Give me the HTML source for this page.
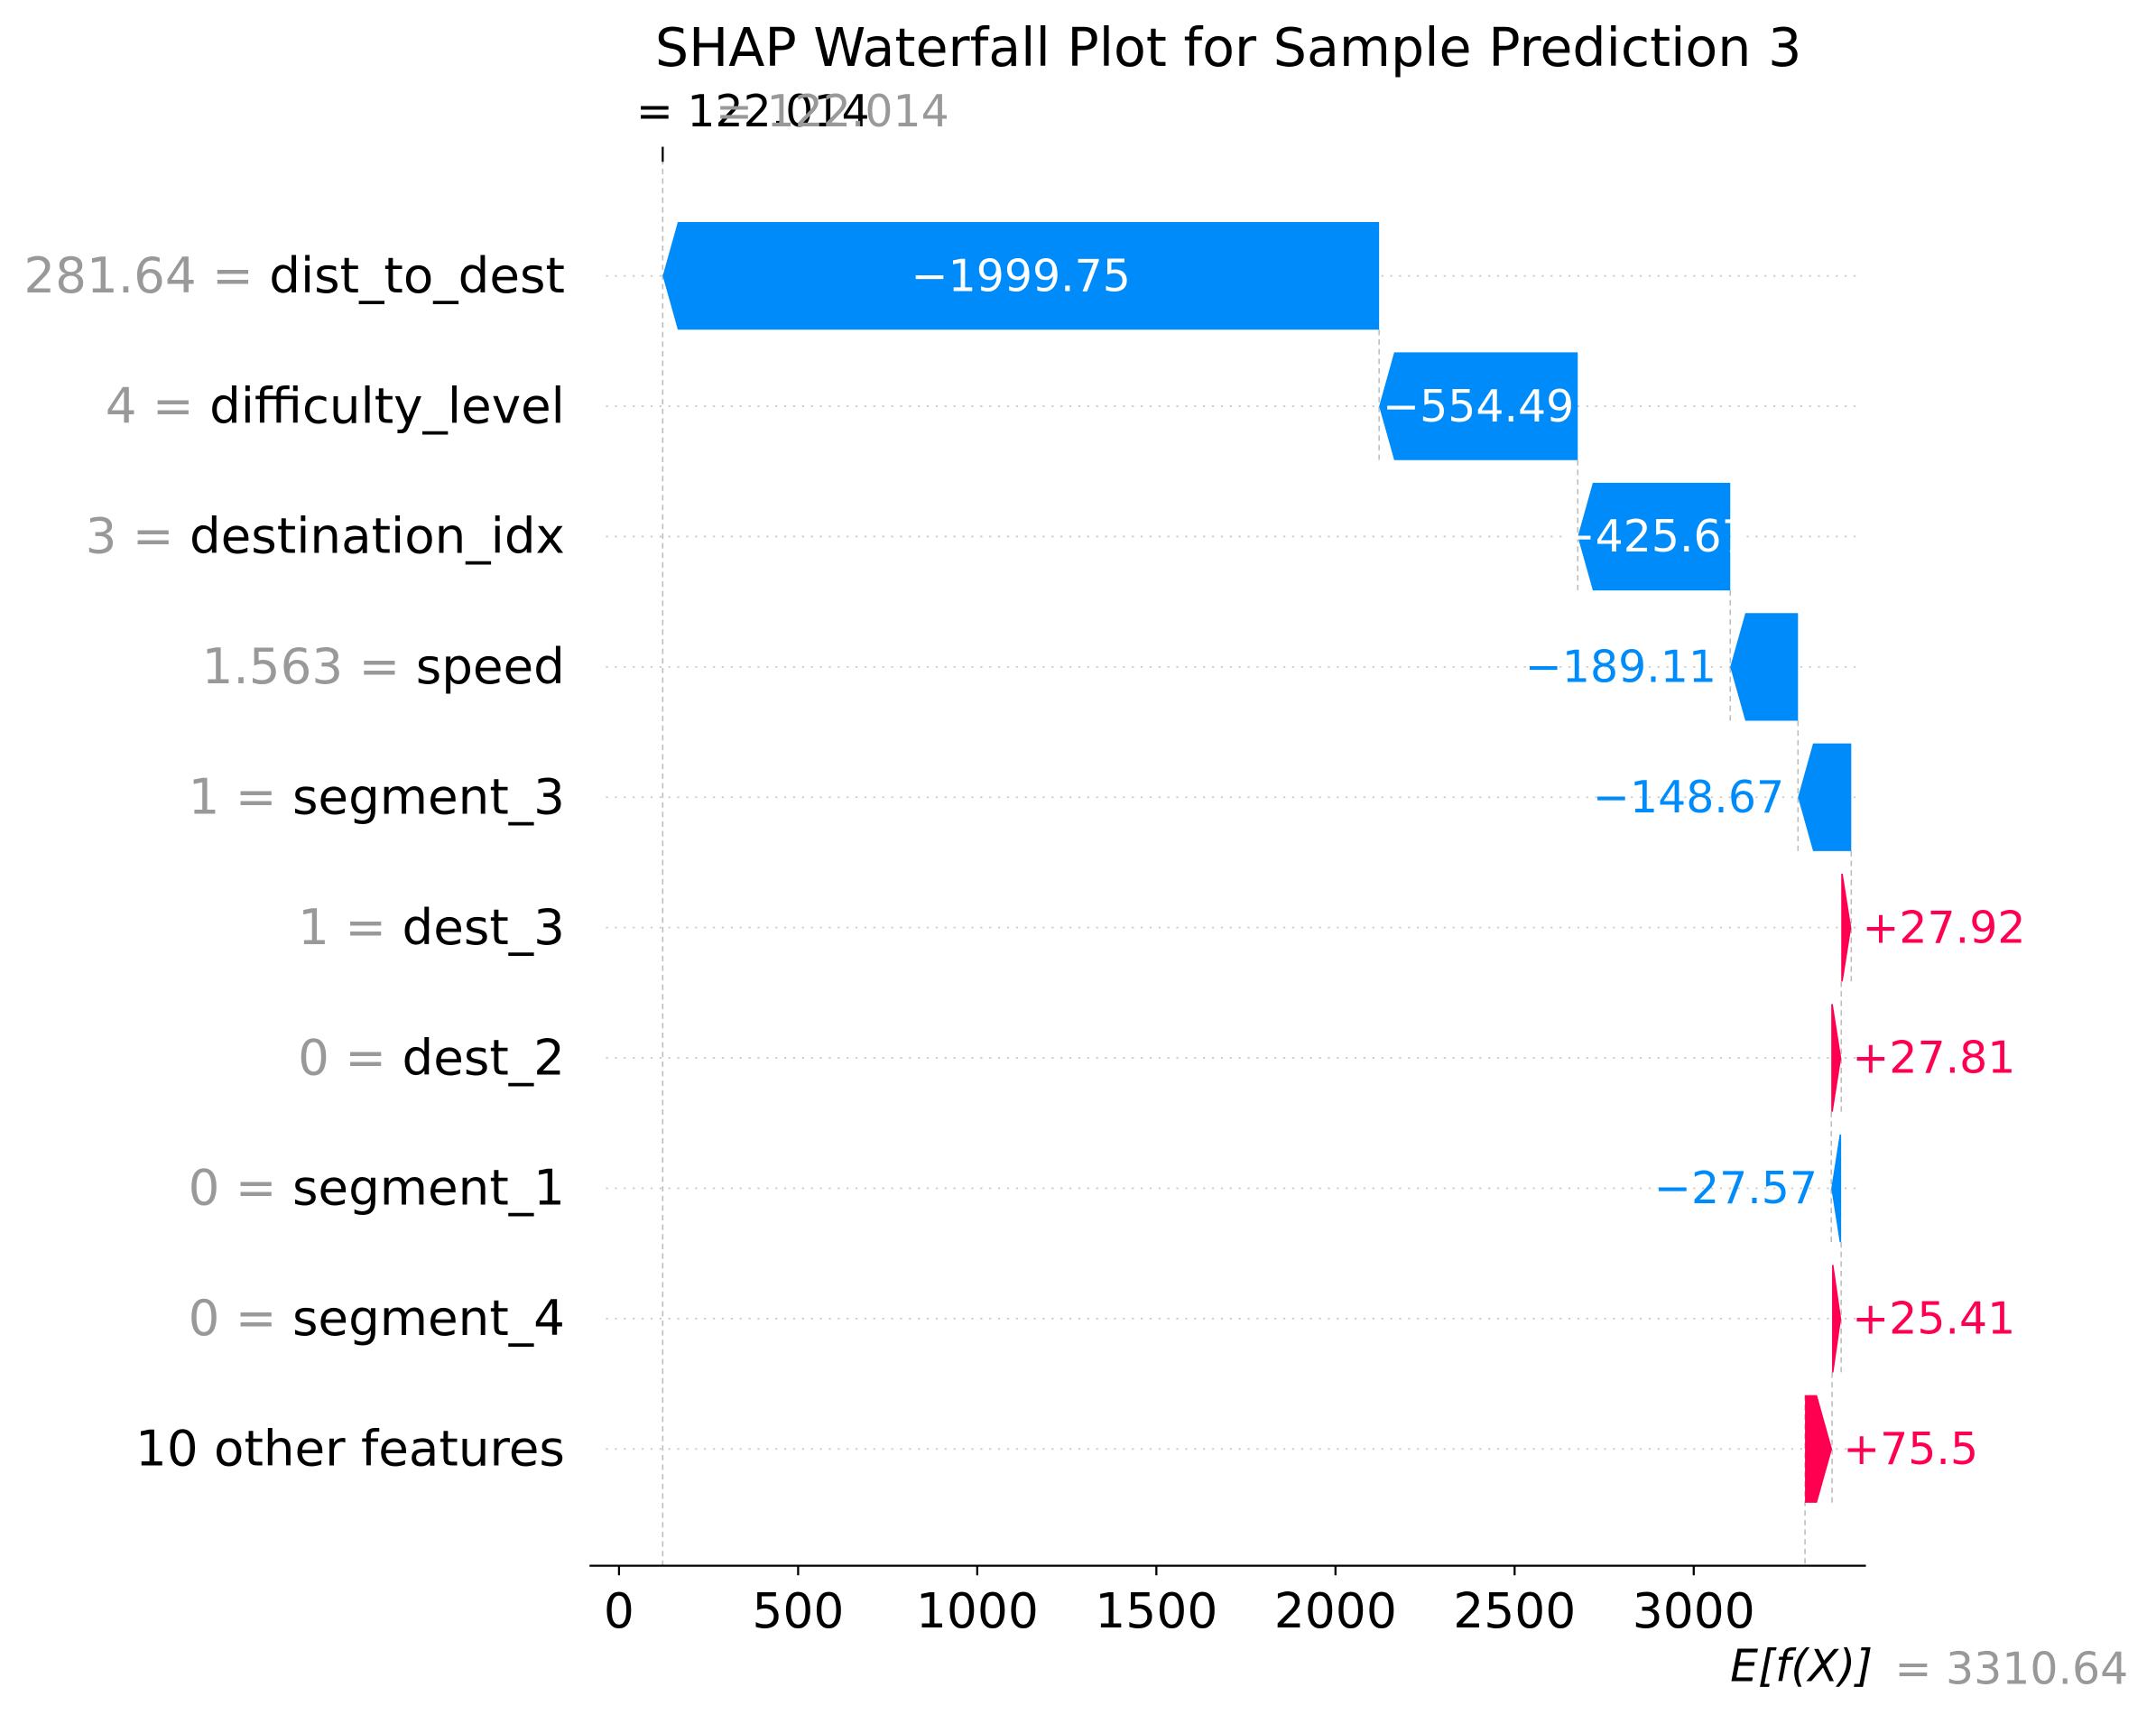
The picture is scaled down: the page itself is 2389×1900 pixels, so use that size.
<!DOCTYPE html>
<html><head><meta charset="utf-8"><style>
html,body{margin:0;padding:0;background:#fff;}
svg{display:block;font-family:"DejaVu Sans","Liberation Sans",sans-serif;}
</style></head><body>
<svg id="chart" width="2389" height="1900" viewBox="0 0 1560 1240.67" xmlns="http://www.w3.org/2000/svg">
<g transform="scale(0.992)">
<text x="896" y="48" font-size="38.6" text-anchor="middle" fill="#000">SHAP Waterfall Plot for Sample Prediction 3</text>
<g id="plot"></g>
</g>
</svg>
<script>
const features = ["dist_to_dest","difficulty_level","destination_idx","speed","segment_3","dest_3","dest_2","segment_1","segment_4","10 other features"];
const featureValues = ["281.64","4","3","1.563","1","1","0","0","0",""];
const shapValues = [-1999.75,-554.49,-425.67,-189.11,-148.67,27.92,27.81,-27.57,25.41,75.5];
const shapLabels = ["\u22121999.75","\u2212554.49","\u2212425.67","\u2212189.11","\u2212148.67","+27.92","+27.81","\u221227.57","+25.41","+75.5"];
const baseValue = 3310.64;
const fxValue = 122.014;
const xTicks = [0,500,1000,1500,2000,2500,3000];

const NS="http://www.w3.org/2000/svg";
const g=document.getElementById('plot');
function xs(v){return 451.5+v*0.2613;}
function ys(i){return 201.2+i*95.05;}
const H=78.5;
function mk(tag,attrs,parent){const e=document.createElementNS(NS,tag);for(const k in attrs)e.setAttribute(k,attrs[k]);(parent||g).appendChild(e);return e;}
const BLUE="#008bfb",RED="#ff0051";
const n=features.length;
const AXY=1141.8;
for(let i=0;i<n;i++){
  const l=mk('line',{x1:442,x2:1356,y1:ys(i),y2:ys(i),stroke:"#ccc","stroke-width":1.2,"stroke-dasharray":"1.5,5"});
  
  
}
const ends=[];const starts=[];
let cum=baseValue;
for(let i=n-1;i>=0;i--){starts[i]=cum;cum+=shapValues[i];ends[i]=cum;}
let l0=mk('line',{x1:xs(fxValue),x2:xs(fxValue),y1:109,y2:AXY,stroke:"#bbb","stroke-width":1,"stroke-dasharray":"4,3"});


let t0=mk('line',{x1:xs(fxValue),x2:xs(fxValue),y1:107,y2:118,stroke:"#000","stroke-width":1.5});


for(let i=0;i<n;i++){
  const x=xs(starts[i]);
  const y2=(i<n-1)?ys(i+1)+H/2:AXY;
  const c=mk('line',{x1:x,x2:x,y1:ys(i)+(i<n-1?H/2:-H/2),y2:y2,stroke:"#bbb","stroke-width":1,"stroke-dasharray":"4,3"});
  
  
}
for(let i=0;i<n;i++){
  const v=shapValues[i];const x0=xs(starts[i]),x1=xs(ends[i]);const y=ys(i);
  const w=Math.abs(x1-x0);const hl=Math.min(11,w*0.85);const dir=v<0?1:-1;
  const xb=x1+dir*hl;
  const pts=[[x0,y-H/2],[xb,y-H/2],[x1,y],[xb,y+H/2],[x0,y+H/2]].map(p=>p.join(',')).join(' ');
  const col=v<0?BLUE:RED;
  const p=mk('polygon',{points:pts,fill:col});
  
  
  let tx,anchor,fill;
  if(w>100){tx=(x0+x1)/2;anchor="middle";fill="#fff";}
  else if(v<0){tx=x1-10;anchor="end";fill=col;}
  else{tx=x1+8;anchor="start";fill=col;}
  const t=mk('text',{x:tx,y:y+11,"font-size":32.2,"text-anchor":anchor,fill:fill});
  t.textContent=shapLabels[i];
  
  
  const fl=mk('text',{x:412,y:y+12,"font-size":36,"text-anchor":"end",fill:"#000"});
  if(featureValues[i]!==""){
    const s=mk('tspan',{fill:"#999"},fl);s.textContent=featureValues[i]+" = ";
  }
  const s2=mk('tspan',{},fl);s2.textContent=features[i];
  
  
}
const ax=mk('line',{x1:430,x2:1361,y1:AXY,y2:AXY,stroke:"#000","stroke-width":1.5});


for(const t of xTicks){
  const tk=mk('line',{x1:xs(t),x2:xs(t),y1:AXY,y2:AXY+7,stroke:"#000","stroke-width":1.5});
  
  
  const tl=mk('text',{x:xs(t),y:1187,"font-size":35.2,"text-anchor":"middle",fill:"#000"});
  tl.textContent=String(t);
  
  
}
const fa=mk('text',{x:464,y:92,"font-size":32.2,fill:"#000"});fa.textContent="= "+fxValue;


const fb=mk('text',{x:522,y:92,"font-size":32.2,fill:"#999"});fb.textContent="= "+fxValue;


const ea=mk('text',{x:1262,y:1226,"font-size":32.2,fill:"#000","font-style":"italic"});ea.textContent="E[f(X)]";


const eb=mk('text',{x:1382,y:1228,"font-size":32.2,fill:"#999"});eb.textContent="= "+baseValue;


</script>
</body></html>
